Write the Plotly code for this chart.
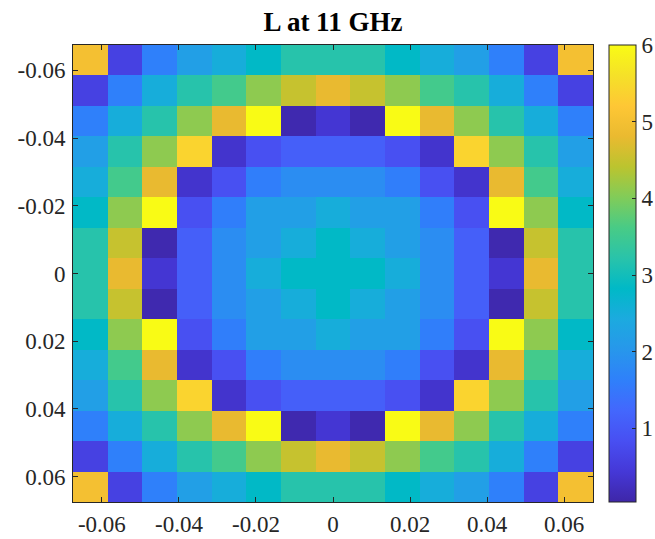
import plotly.graph_objects as go

x_centers = [-0.063, -0.054, -0.045, -0.036, -0.027, -0.018, -0.009, 0.0,
             0.009, 0.018, 0.027, 0.036, 0.045, 0.054, 0.063]
y_centers = [-0.063, -0.054, -0.045, -0.036, -0.027, -0.018, -0.009, 0.0,
             0.009, 0.018, 0.027, 0.036, 0.045, 0.054, 0.063]

L_values = [
    [5.0, 0.6, 1.63, 2.2, 2.5, 2.83, 3.2, 3.2, 3.2, 2.83, 2.5, 2.2, 1.63, 0.6, 5.0],
    [0.6, 1.63, 2.5, 3.2, 3.55, 4.1, 4.5, 4.8, 4.5, 4.1, 3.55, 3.2, 2.5, 1.63, 0.6],
    [1.63, 2.5, 3.2, 4.1, 4.8, 6.0, 0.1, 0.4, 0.1, 6.0, 4.8, 4.1, 3.2, 2.5, 1.63],
    [2.2, 3.2, 4.1, 5.4, 0.35, 0.85, 1.1, 1.1, 1.1, 0.85, 0.35, 5.4, 4.1, 3.2, 2.2],
    [2.5, 3.55, 4.8, 0.35, 0.85, 1.6, 1.85, 1.85, 1.85, 1.6, 0.85, 0.35, 4.8, 3.55, 2.5],
    [2.83, 4.1, 6.0, 0.85, 1.6, 2.2, 2.2, 2.5, 2.2, 2.2, 1.6, 0.85, 6.0, 4.1, 2.83],
    [3.2, 4.5, 0.1, 1.1, 1.85, 2.2, 2.5, 2.83, 2.5, 2.2, 1.85, 1.1, 0.1, 4.5, 3.2],
    [3.2, 4.8, 0.4, 1.1, 1.85, 2.5, 2.83, 2.83, 2.83, 2.5, 1.85, 1.1, 0.4, 4.8, 3.2],
    [3.2, 4.5, 0.1, 1.1, 1.85, 2.2, 2.5, 2.83, 2.5, 2.2, 1.85, 1.1, 0.1, 4.5, 3.2],
    [2.83, 4.1, 6.0, 0.85, 1.6, 2.2, 2.2, 2.5, 2.2, 2.2, 1.6, 0.85, 6.0, 4.1, 2.83],
    [2.5, 3.55, 4.8, 0.35, 0.85, 1.6, 1.85, 1.85, 1.85, 1.6, 0.85, 0.35, 4.8, 3.55, 2.5],
    [2.2, 3.2, 4.1, 5.4, 0.35, 0.85, 1.1, 1.1, 1.1, 0.85, 0.35, 5.4, 4.1, 3.2, 2.2],
    [1.63, 2.5, 3.2, 4.1, 4.8, 6.0, 0.1, 0.4, 0.1, 6.0, 4.8, 4.1, 3.2, 2.5, 1.63],
    [0.6, 1.63, 2.5, 3.2, 3.55, 4.1, 4.5, 4.8, 4.5, 4.1, 3.55, 3.2, 2.5, 1.63, 0.6],
    [5.0, 0.6, 1.63, 2.2, 2.5, 2.83, 3.2, 3.2, 3.2, 2.83, 2.5, 2.2, 1.63, 0.6, 5.0],
]

axis_ticks = [-0.06, -0.04, -0.02, 0.0, 0.02, 0.04, 0.06]
axis_tick_labels = ["-0.06", "-0.04", "-0.02", "0", "0.02", "0.04", "0.06"]
cbar_ticks = [1, 2, 3, 4, 5, 6]
title_text = "L at 11 GHz"

parula_hex = ["#3E26A8", "#4538D7", "#484FF2", "#4367FD", "#2F80FA", "#2797EB",
              "#1CAADF", "#00B9C7", "#29C3AA", "#48CB86", "#81CC59", "#BBC42F",
              "#EABA30", "#FEC735", "#F5E128", "#F9FB15"]
colorscale = [[i / (len(parula_hex) - 1), c] for i, c in enumerate(parula_hex)]

FONT = "Liberation Serif"
AX = "#262626"

fig = go.Figure(go.Heatmap(
    x=x_centers, y=y_centers, z=L_values,
    colorscale=colorscale, zmin=0.04, zmax=6.0,
    colorbar=dict(
        thickness=27, len=1, lenmode="fraction", y=0.5, yanchor="middle",
        x=1.03, xanchor="left", xpad=0, ypad=0,
        outlinewidth=1, outlinecolor=AX,
        tickvals=cbar_ticks, ticks="inside", ticklen=4, tickcolor=AX,
        tickfont=dict(family=FONT, size=23, color=AX),
    ),
    hoverinfo="skip",
))

axis_common = dict(
    tickvals=axis_ticks, ticktext=axis_tick_labels,
    ticks="inside", ticklen=5, tickcolor=AX, tickwidth=1,
    showline=True, linecolor=AX, linewidth=1, mirror="ticks",
    showgrid=False, zeroline=False,
    tickfont=dict(family=FONT, size=23, color=AX),
)

fig.update_layout(
    width=655, height=539,
    margin=dict(l=73, r=62, t=45, b=37, autoexpand=False),
    paper_bgcolor="white", plot_bgcolor="white",
    title=dict(text="<b>" + title_text + "</b>", x=0.5, xref="paper", xanchor="center",
               y=1 - 22 / 539, yanchor="middle",
               font=dict(family=FONT, size=27, color="black")),
    xaxis=dict(range=[-0.0675, 0.0675], ticklabelstandoff=1, **axis_common),
    yaxis=dict(range=[0.0675, -0.0675], ticklabelstandoff=2, **axis_common),
)

fig.write_html("out.html")
